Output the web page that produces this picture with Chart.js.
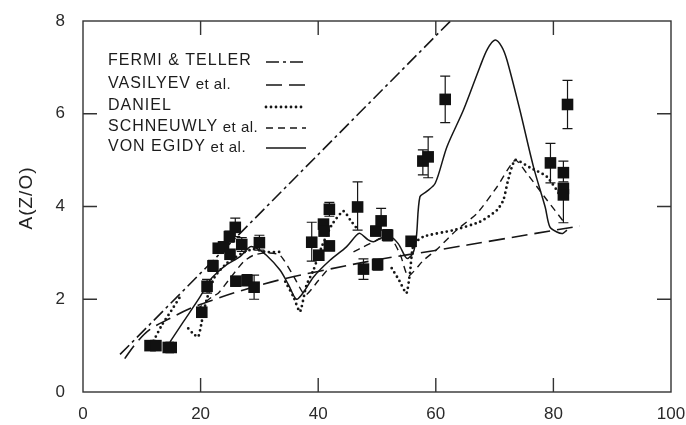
<!DOCTYPE html>
<html>
<head>
<meta charset="utf-8">
<script src="https://cdn.jsdelivr.net/npm/chart.js@4/dist/chart.umd.min.js"></script>
<style>
  html, body { margin: 0; padding: 0; background: #fff; }
  #wrap { width: 686px; height: 425px; }
</style>
</head>
<body>
<div id="wrap"><canvas id="c" width="686" height="425"></canvas></div>
<script>
// Measured ratios A(Z/O) with error bars
const zVals   = [11.4, 12.4, 14.5, 15.0, 20.2, 21.1, 22.1, 23.0, 23.9, 24.9, 25.0, 25.9, 26.0, 27.0, 27.9, 29.1, 30.0,
                 38.9, 40.1, 40.9, 41.0, 41.9, 41.9, 46.7, 47.7, 49.8, 50.1, 50.7, 51.8, 55.8, 57.8, 58.7, 61.6,
                 79.5, 82.4, 81.7, 81.7, 81.7];
const aVals   = [1.00, 1.00, 0.96, 0.96, 1.72, 2.28, 2.72, 3.10, 3.13, 3.35, 2.97, 3.55, 2.39, 3.18, 2.41, 2.26, 3.22,
                 3.23, 2.95, 3.62, 3.47, 3.94, 3.15, 3.99, 2.65, 3.47, 2.75, 3.69, 3.38, 3.25, 4.98, 5.07, 6.31,
                 4.94, 6.20, 4.73, 4.39, 4.25];
const errLow  = [0, 0, 0, 0, 0.10, 0.15, 0.12, 0.10, 0.10, 0.12, 0.10, 0.20, 0.10, 0.15, 0.12, 0.26, 0.16,
                 0.41, 0.10, 0.10, 0.10, 0.15, 0.10, 0.50, 0.22, 0.10, 0.12, 0.20, 0.12, 0.10, 0.30, 0.45, 0.50,
                 0.43, 0.52, 0.20, 0.20, 0.60];
const errHigh = [0, 0, 0, 0, 0.10, 0.15, 0.12, 0.10, 0.10, 0.12, 0.10, 0.20, 0.10, 0.15, 0.12, 0.26, 0.16,
                 0.43, 0.10, 0.10, 0.10, 0.15, 0.10, 0.54, 0.22, 0.10, 0.12, 0.27, 0.12, 0.10, 0.24, 0.43, 0.50,
                 0.42, 0.52, 0.25, 0.10, 0.10];

// Fermi & Teller: A proportional to Z
const fermiZ = [6.3, 62.5];
const fermiA = [0.81, 8.0];

// Vasilyev et al.
const vasZ = [7.1, 9.0, 11.4, 15.0, 18.2, 22.0, 27.3, 33.5, 40.0, 50.0, 60.7, 70.0, 84.5];
const vasA = [0.72, 1.05, 1.35, 1.60, 1.80, 1.98, 2.20, 2.42, 2.60, 2.85, 3.07, 3.27, 3.58];

// Daniel (null separates the computed segments)
const danZ = [12.0, 13.4, 15.0, 16.5, null,
              17.9, 18.8, 19.6, 20.2, 21.0, 22.4, 24.4, 27.0, 29.0, 31.0, 33.5, null,
              34.4, 35.8, 36.9, 38.0, 39.2, 40.5, 42.3, 44.3, 45.5, 46.8, null,
              52.5, 53.8, 55.0, 55.6, 56.2, 57.9, 63.0, 67.5, 70.4, 71.5, 72.3, 73.5, 76.0, 78.9, 81.7];
const danA = [1.10, 1.44, 1.75, 2.05, null,
              1.37, 1.25, 1.19, 1.52, 1.98, 2.48, 2.77, 2.99, 3.08, 3.02, 3.02, null,
              2.38, 2.05, 1.73, 2.30, 2.63, 3.10, 3.60, 3.90, 3.70, 3.49, null,
              2.67, 2.40, 2.13, 2.56, 3.17, 3.35, 3.49, 3.67, 3.92, 4.14, 4.57, 5.00, 4.84, 4.64, 4.14];

// Schneuwly et al.
const schZ = [19.3, 21.9, 23.0, 25.0, 27.3, 29.0, 31.0, 33.5, 35.8, 37.8, 40.0, 42.0, null,
              46.0, 47.7, 48.8, 50.4, 52.3, 54.0, 55.3, 57.9, 60.4, 63.5, 67.0, 70.4, 73.5, 75.5, 78.9, 81.7];
const schA = [1.77, 2.05, 2.13, 2.45, 2.81, 2.95, 3.00, 2.95, 2.50, 2.09, 2.40, 2.70, null,
              3.02, 3.13, 3.20, 3.30, 3.33, 2.95, 2.50, 2.84, 3.10, 3.49, 3.85, 4.42, 5.00, 4.71, 4.14, 3.68];

// von Egidy et al.
const egiZ = [14.8, 17.0, 19.9, 21.6, 22.7, 24.5, 26.7, 28.4, 29.5, 31.2, 33.5, 35.0, 36.3, 37.5, 39.2, 42.0, 44.8,
              46.5, 47.1, 48.5, 49.4, 50.5, 52.2, 53.6, 54.8, 55.3, 56.2, 56.7, 57.3, 58.4, 59.9, 61.9, 64.7,
              67.5, 68.8, 70.1, 71.2, 72.1, 74.3, 76.6, 78.6, 79.4, 80.6, 81.6, 82.3];
const egiA = [1.08, 1.50, 2.05, 2.41, 2.56, 2.75, 2.92, 3.13, 3.10, 2.95, 2.63, 2.30, 2.00, 2.15, 2.48, 2.84, 3.13,
              3.38, 3.42, 3.28, 3.24, 3.31, 3.35, 3.20, 2.92, 2.88, 3.02, 3.35, 4.21, 4.32, 4.50, 5.29, 6.08,
              7.01, 7.40, 7.59, 7.45, 7.16, 6.08, 4.86, 3.99, 3.56, 3.45, 3.42, 3.49];

const xTicks = [0, 20, 40, 60, 80, 100];
const yTicks = [0, 2, 4, 6, 8];

const INK = '#161616';
const FONT = '"Liberation Sans", Arial, sans-serif';

function pts(xs, ys) {
  return xs.map((x, i) => (x === null ? { x: NaN, y: null } : { x: x, y: ys[i] }));
}

const legendRows = [
  { label: 'FERMI & TELLER', tail: '', dash: [13, 4, 3, 4], width: 1.6, cap: 'butt' },
  { label: 'VASILYEV', tail: ' et al.', dash: [16, 7], width: 1.6, cap: 'butt' },
  { label: 'DANIEL', tail: '', dash: [0, 5], width: 2.8, cap: 'round' },
  { label: 'SCHNEUWLY', tail: ' et al.', dash: [7, 5], width: 1.5, cap: 'butt' },
  { label: 'VON EGIDY', tail: ' et al.', dash: [], width: 1.5, cap: 'butt' }
];

const decor = {
  id: 'decor',
  beforeDatasetsDraw(chart) {
    const { ctx } = chart;
    const xs = chart.scales.x, ys = chart.scales.y;
    ctx.save();
    ctx.strokeStyle = INK;
    ctx.lineWidth = 1.2;
    zVals.forEach((z, i) => {
      if (!errLow[i] && !errHigh[i]) return;
      const px = xs.getPixelForValue(z);
      const top = ys.getPixelForValue(aVals[i] + errHigh[i]);
      const bot = ys.getPixelForValue(aVals[i] - errLow[i]);
      ctx.beginPath();
      ctx.moveTo(px, top); ctx.lineTo(px, bot);
      ctx.moveTo(px - 5, top); ctx.lineTo(px + 5, top);
      ctx.moveTo(px - 5, bot); ctx.lineTo(px + 5, bot);
      ctx.stroke();
    });
    ctx.restore();
  },
  afterDraw(chart) {
    const { ctx, chartArea: a } = chart;
    const xs = chart.scales.x, ys = chart.scales.y;
    ctx.save();
    // frame
    ctx.strokeStyle = '#333';
    ctx.lineWidth = 1.4;
    ctx.strokeRect(a.left, a.top, a.right - a.left, a.bottom - a.top);
    // inward ticks on all four sides
    const len = 14;
    ctx.beginPath();
    xTicks.slice(1, -1).forEach(v => {
      const p = xs.getPixelForValue(v);
      ctx.moveTo(p, a.bottom); ctx.lineTo(p, a.bottom - len);
      ctx.moveTo(p, a.top); ctx.lineTo(p, a.top + len);
    });
    yTicks.slice(1, -1).forEach(v => {
      const p = ys.getPixelForValue(v);
      ctx.moveTo(a.left, p); ctx.lineTo(a.left + len, p);
      ctx.moveTo(a.right, p); ctx.lineTo(a.right - len, p);
    });
    ctx.stroke();

    // y-axis title
    ctx.fillStyle = '#222';
    ctx.font = '19px ' + FONT;
    ctx.textAlign = 'center';
    ctx.textBaseline = 'middle';
    ctx.translate(27, 198);
    ctx.rotate(-Math.PI / 2);
    ctx.letterSpacing = '1px';
    ctx.fillText('A(Z/O)', 0, 0);
    ctx.setTransform(1, 0, 0, 1, 0, 0);

    // legend
    const rowY = [61, 84, 106, 127, 147];
    ctx.textAlign = 'left';
    ctx.textBaseline = 'middle';
    legendRows.forEach((r, i) => {
      const y = rowY[i];
      ctx.fillStyle = '#1c1c1c';
      ctx.letterSpacing = '1px';
      ctx.font = '16px ' + FONT;
      ctx.fillText(r.label, 108, y);
      if (r.tail) {
        const w = ctx.measureText(r.label).width;
        ctx.letterSpacing = '0.5px';
        ctx.font = '15px ' + FONT;
        ctx.fillText(r.tail, 108 + w, y + 1);
      }
      ctx.beginPath();
      ctx.setLineDash(r.dash);
      ctx.lineCap = r.cap;
      ctx.lineWidth = r.width;
      ctx.strokeStyle = INK;
      ctx.moveTo(266, y + 1);
      ctx.lineTo(306, y + 1);
      ctx.stroke();
    });
    ctx.restore();
  }
};

const lineBase = { showLine: true, pointRadius: 0, pointHoverRadius: 0, borderColor: INK, fill: false, spanGaps: false, order: 1 };

new Chart(document.getElementById('c'), {
  type: 'scatter',
  data: {
    datasets: [
      {
        label: 'data',
        data: pts(zVals, aVals),
        pointStyle: 'rect',
        pointRadius: 8.2,
        backgroundColor: '#111',
        borderColor: '#111',
        borderWidth: 0,
        showLine: false,
        order: 0
      },
      Object.assign({}, lineBase, { label: 'FERMI & TELLER', data: pts(fermiZ, fermiA), borderDash: [13, 4, 3, 4], borderWidth: 1.6, tension: 0 }),
      Object.assign({}, lineBase, { label: 'VASILYEV et al.', data: pts(vasZ, vasA), borderDash: [16, 7], borderWidth: 1.6, tension: 0.35 }),
      Object.assign({}, lineBase, { label: 'DANIEL', data: pts(danZ, danA), borderDash: [0, 5], borderCapStyle: 'round', borderWidth: 2.8, tension: 0.2 }),
      Object.assign({}, lineBase, { label: 'SCHNEUWLY et al.', data: pts(schZ, schA), borderDash: [7, 5], borderWidth: 1.4, tension: 0.2 }),
      Object.assign({}, lineBase, { label: 'VON EGIDY et al.', data: pts(egiZ, egiA), borderWidth: 1.5, tension: 0.3 })
    ]
  },
  options: {
    responsive: false,
    animation: false,
    devicePixelRatio: 1,
    layout: { padding: { top: 21, right: 15, left: 0, bottom: 0 } },
    plugins: { legend: { display: false }, tooltip: { enabled: false } },
    scales: {
      x: {
        type: 'linear', min: 0, max: 100,
        afterBuildTicks: s => { s.ticks = xTicks.map(v => ({ value: v })); },
        afterFit: s => { s.height = 33; s.paddingLeft = 0; s.paddingRight = 0; },
        grid: { display: false }, border: { display: false },
        ticks: { color: '#2a2a2a', font: { family: FONT, size: 17 }, padding: 4, maxRotation: 0 }
      },
      y: {
        type: 'linear', min: 0, max: 8,
        afterBuildTicks: s => { s.ticks = yTicks.map(v => ({ value: v })); },
        afterFit: s => { s.width = 83; s.paddingTop = 0; s.paddingBottom = 0; },
        grid: { display: false }, border: { display: false },
        ticks: { color: '#2a2a2a', font: { family: FONT, size: 17 }, padding: 10 }
      }
    }
  },
  plugins: [decor]
});
</script>
</body>
</html>
